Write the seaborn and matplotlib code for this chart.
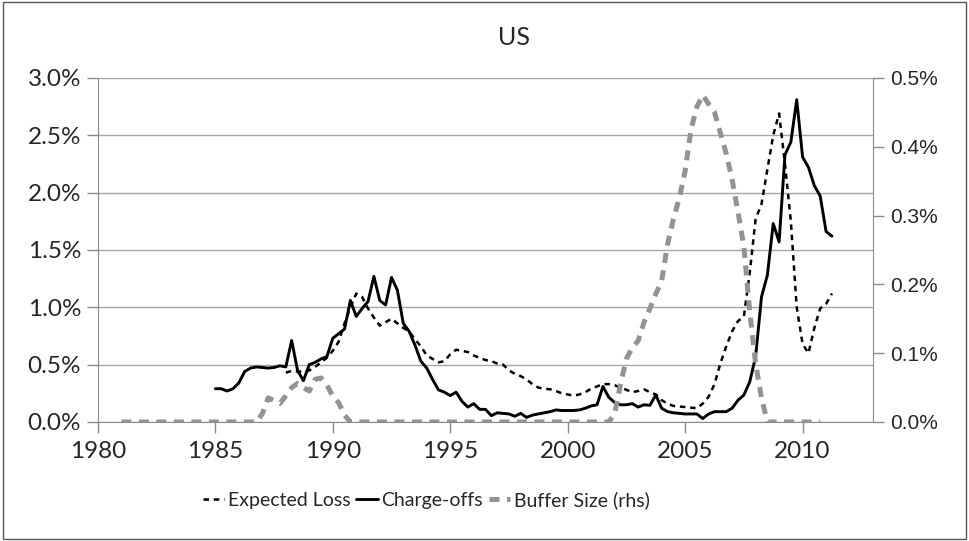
import numpy as np
import pandas as pd
import matplotlib
matplotlib.use("Agg")
import matplotlib.pyplot as plt
from matplotlib.patches import Rectangle
from matplotlib.ticker import FuncFormatter
import seaborn as sns

# quarterly series; the first value sits at the start year
loss_start = 1988.0
expected_loss = [
    0.43, 0.445, 0.44, 0.44, 0.45, 0.48, 0.52, 0.56,
    0.62, 0.70, 0.86, 1.00, 1.12, 1.09, 0.99, 0.91,
    0.84, 0.87, 0.90, 0.86, 0.82, 0.79, 0.72, 0.66,
    0.58, 0.55, 0.52, 0.53, 0.59, 0.63, 0.62, 0.61,
    0.58, 0.56, 0.54, 0.53, 0.51, 0.50, 0.45, 0.42,
    0.40, 0.37, 0.33, 0.30, 0.29, 0.285, 0.27, 0.25,
    0.24, 0.23, 0.24, 0.26, 0.29, 0.31, 0.33, 0.33,
    0.32, 0.30, 0.28, 0.26, 0.27, 0.285, 0.26, 0.24,
    0.19, 0.16, 0.14, 0.135, 0.13, 0.125, 0.12, 0.16,
    0.22, 0.33, 0.51, 0.66, 0.79, 0.88, 0.92, 1.30,
    1.77, 1.90, 2.20, 2.50, 2.69, 2.25, 1.75, 1.00,
    0.68, 0.60, 0.82, 0.99, 1.03, 1.12,
]

chargeoff_start = 1985.0
charge_offs = [
    0.29, 0.29, 0.27, 0.29, 0.34, 0.44, 0.47, 0.48, 0.475, 0.47,
    0.475, 0.49, 0.48, 0.71, 0.45, 0.36, 0.50, 0.52, 0.55, 0.57,
    0.73, 0.77, 0.81, 1.06, 0.92, 0.99, 1.05, 1.27, 1.06, 1.02,
    1.26, 1.15, 0.86, 0.79, 0.67, 0.53, 0.47, 0.37, 0.28, 0.26,
    0.23, 0.26, 0.18, 0.13, 0.16, 0.11, 0.11, 0.055, 0.08, 0.075,
    0.07, 0.05, 0.075, 0.04, 0.06, 0.07, 0.08, 0.09, 0.105, 0.10,
    0.10, 0.10, 0.105, 0.12, 0.14, 0.15, 0.31, 0.215, 0.17, 0.15,
    0.15, 0.16, 0.13, 0.15, 0.145, 0.235, 0.12, 0.09, 0.08, 0.075,
    0.07, 0.07, 0.07, 0.03, 0.07, 0.09, 0.09, 0.09, 0.12, 0.19,
    0.235, 0.35, 0.57, 1.09, 1.28, 1.73, 1.57, 2.33, 2.44, 2.81,
    2.31, 2.22, 2.06, 1.97, 1.66, 1.62,
]

buffer_start = 1981.0
buffer_size = [
    0, 0, 0, 0, 0, 0, 0, 0, 0, 0, 0, 0,
    0, 0, 0, 0, 0, 0, 0, 0, 0, 0, 0, 0,
    0.012, 0.035, 0.031, 0.027, 0.038, 0.050, 0.056, 0.050,
    0.045, 0.062, 0.064, 0.054, 0.037, 0.028, 0.010,
    0, 0, 0, 0, 0, 0, 0, 0, 0, 0, 0, 0, 0, 0, 0,
    0, 0, 0, 0, 0, 0, 0, 0, 0, 0, 0, 0, 0, 0, 0,
    0, 0, 0, 0, 0, 0, 0, 0, 0, 0, 0, 0, 0, 0, 0,
    0.012, 0.055, 0.092, 0.108, 0.118, 0.145, 0.165, 0.186,
    0.205, 0.258, 0.295, 0.325, 0.365, 0.425, 0.458, 0.475,
    0.462, 0.45, 0.42, 0.39, 0.352, 0.305, 0.255, 0.16,
    0.085, 0.035,
    0, 0, 0, 0, 0, 0, 0, 0, 0, 0,
]

year_ticks = [1980, 1985, 1990, 1995, 2000, 2005, 2010]
left_ticks = [0.0, 0.5, 1.0, 1.5, 2.0, 2.5, 3.0]
right_ticks = [0.0, 0.1, 0.2, 0.3, 0.4, 0.5]


def quarterly(start, values):
    return pd.DataFrame({"year": start + 0.25 * np.arange(len(values)),
                         "value": values})


df_loss = quarterly(loss_start, expected_loss)
df_co = quarterly(chargeoff_start, charge_offs)
df_buf = quarterly(buffer_start, buffer_size)

sns.set_style("white")
plt.rcParams["font.family"] = ["Lato", "DejaVu Sans"]

grid_c = "#a6a6a6"
axis_c = "#8a8a8a"

fig = plt.figure(figsize=(9.69, 5.41), dpi=100)
ax = fig.add_axes([0.101, 0.22, 0.800, 0.636])
ax2 = ax.twinx()

sns.lineplot(data=df_loss, x="year", y="value", ax=ax, color="black",
             linewidth=1.8, linestyle=(0, (2.2, 1.9)), label="Expected Loss")
sns.lineplot(data=df_co, x="year", y="value", ax=ax, color="black",
             linewidth=2.1, label="Charge-offs")
sns.lineplot(data=df_buf, x="year", y="value", ax=ax2, color="#939393",
             linewidth=3.6, linestyle=(0, (2.0, 1.5)), label="Buffer Size (rhs)")
for ln in ax2.get_lines():
    ln.set_dash_capstyle("butt")

ax.set_xlim(1980, 2013)
ax.set_ylim(0, 3.0)
ax2.set_ylim(0, 0.5)
ax.set_xticks(year_ticks)
ax.set_yticks(left_ticks)
ax2.set_yticks(right_ticks)
ax.yaxis.set_major_formatter(FuncFormatter(lambda v, p: f"{v:.1f}%"))
ax2.yaxis.set_major_formatter(FuncFormatter(lambda v, p: f"{v:.1f}%"))
ax.set_xlabel("")
ax.set_ylabel("")
ax2.set_ylabel("")

ax.grid(axis="y", color=grid_c, linewidth=1.0)
ax.grid(axis="x", visible=False)
ax2.grid(False)
ax.set_axisbelow(True)

ax.spines["top"].set_visible(False)
ax2.spines["top"].set_visible(False)
ax.spines["right"].set_visible(False)
ax.spines["left"].set_color(axis_c)
ax.spines["bottom"].set_color(axis_c)
ax2.spines["left"].set_visible(False)
ax2.spines["bottom"].set_visible(False)
ax2.spines["right"].set_color(axis_c)

ax.tick_params(axis="x", direction="out", length=8, width=1, color=axis_c,
               pad=6, labelsize=17.5, bottom=True)
ax.tick_params(axis="y", direction="out", length=8, width=1, color=axis_c,
               pad=4, labelsize=17.5, left=True)
ax2.tick_params(axis="y", direction="out", length=8, width=1, color=axis_c,
                pad=4, right=True)
for t in ax2.get_yticklabels():
    t.set_fontfamily(["Liberation Sans", "DejaVu Sans"])
    t.set_fontsize(15)

fig.text(0.53, 0.93, "US", ha="center", va="center", fontsize=18)

h1, l1 = ax.get_legend_handles_labels()
h2, l2 = ax2.get_legend_handles_labels()
if ax2.get_legend():
    ax2.get_legend().remove()
ax.legend(h1 + h2, l1 + l2, loc="center", bbox_to_anchor=(0.44, 0.076),
          bbox_transform=fig.transFigure, ncol=3, frameon=False, fontsize=14,
          handlelength=1.1, handletextpad=0.2, columnspacing=0.3)

fig.patches.append(Rectangle((0.003, 0.004), 0.994, 0.992, transform=fig.transFigure,
                             fill=False, edgecolor="#555555", linewidth=1.0))

fig.savefig("out.png", dpi=100)
